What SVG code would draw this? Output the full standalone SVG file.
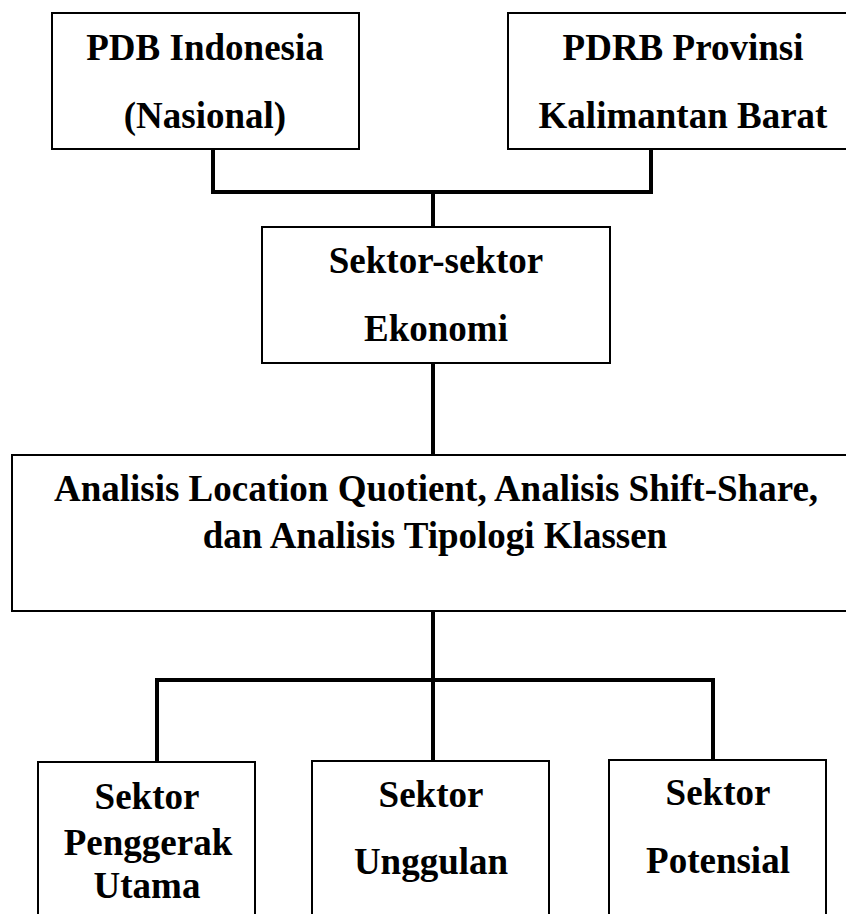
<svg xmlns="http://www.w3.org/2000/svg" width="846" height="914" viewBox="0 0 846 914">
<style>
.box{fill:#fff;stroke:#000;stroke-width:2}
.t{font-family:"Liberation Serif","Times New Roman",serif;font-weight:bold;font-size:37px;fill:#000;text-anchor:middle}
.c{fill:none;stroke:#000;stroke-width:4;stroke-linecap:square;stroke-linejoin:miter}
</style>
<rect width="846" height="914" fill="#fff"/>
<g id="connectors">
<polyline class="c" points="213,150 213,192 651,192 651,150"/>
<line class="c" x1="433" y1="192" x2="433" y2="226"/>
<line class="c" x1="433" y1="363" x2="433" y2="454"/>
<line class="c" x1="433" y1="612" x2="433" y2="760"/>
<polyline class="c" points="157,761 157,680 713,680 713,758"/>
</g>
<g id="n1"><rect class="box" x="52" y="13" width="307" height="136"/>
<text class="t" x="205" y="60">PDB Indonesia</text><text class="t" x="205" y="128">(Nasional)</text></g>
<g id="n2"><rect class="box" x="508" y="13" width="350" height="136"/>
<text class="t" x="683" y="60">PDRB Provinsi</text><text class="t" x="683" y="128">Kalimantan Barat</text></g>
<g id="n3"><rect class="box" x="262" y="227" width="348" height="136"/>
<text class="t" x="436" y="273">Sektor-sektor</text><text class="t" x="436" y="341">Ekonomi</text></g>
<g id="n4"><rect class="box" x="12" y="455" width="846" height="156"/>
<text class="t" x="436" y="501">Analisis Location Quotient, Analisis Shift-Share,</text><text class="t" x="435" y="548">dan Analisis Tipologi Klassen</text></g>
<g id="n5"><rect class="box" x="38" y="762" width="217" height="170"/>
<text class="t" x="147" y="809">Sektor</text><text class="t" x="148" y="855">Penggerak</text><text class="t" x="147" y="898">Utama</text></g>
<g id="n6"><rect class="box" x="312" y="761" width="237" height="170"/>
<text class="t" x="431" y="807">Sektor</text><text class="t" x="431" y="874">Unggulan</text></g>
<g id="n7"><rect class="box" x="609" y="760" width="217" height="170"/>
<text class="t" x="718" y="805">Sektor</text><text class="t" x="718" y="873">Potensial</text></g>
</svg>
